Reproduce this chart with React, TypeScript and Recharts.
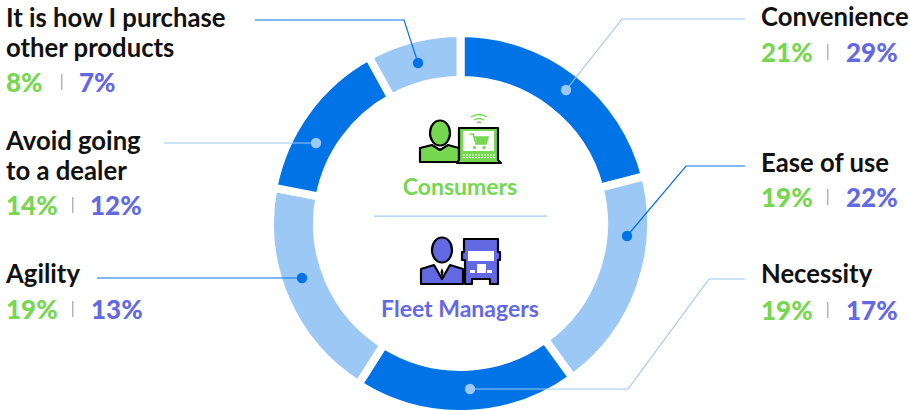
import React from "react";
import { PieChart, Pie, Cell } from "recharts";

const categories = ["Convenience", "Ease of use", "Necessity", "Agility", "Avoid going to a dealer", "It is how I purchase other products"];
const consumers = [21, 19, 19, 19, 14, 8];
const fleetManagers = [29, 22, 17, 13, 12, 7];
const chartData = categories.map((name, i) => ({ name, value: consumers[i] }));

const DARK = "#0073e6";
const LIGHT = "#9cc8f6";
const GREEN = "#76d750";
const PURPLE = "#6369e3";
const FONT = "Lato, 'Open Sans', sans-serif";

const sliceColors = [DARK, LIGHT, DARK, LIGHT, DARK, LIGHT];

const callouts = [
  { lines: ["Convenience"], x: 761, y: 26, pctY: 62, sep: 827, second: 846, path: "M745 19H622L566 90", dot: [566, 90], color: LIGHT },
  { lines: ["Ease of use"], x: 761, y: 172, pctY: 207, sep: 827, second: 846, path: "M745 166H686L627 236", dot: [627, 236], color: DARK },
  { lines: ["Necessity"], x: 761, y: 283, pctY: 320, sep: 827, second: 846, path: "M745 279H709L628 389H470", dot: [470, 389], color: LIGHT },
  { lines: ["Agility"], x: 6, y: 283, pctY: 319, sep: 72, second: 91, path: "M97 278H302", dot: [302, 278], color: DARK },
  { lines: ["Avoid going", "to a dealer"], x: 6, y: 150, pctY: 215, sep: 72, second: 90, path: "M164 143H316", dot: [316, 143], color: LIGHT },
  { lines: ["It is how I purchase", "other products"], x: 6, y: 27, pctY: 92, sep: 61, second: 79, path: "M255 20H404L418 63", dot: [418, 63], color: DARK },
];

function ConsumerIcon() {
  const s = { stroke: "#000", strokeWidth: 2.2, strokeLinejoin: "round" as const };
  return (
    <g>
      <ellipse cx={440} cy={133} rx={10} ry={12.5} fill={GREEN} {...s} />
      <path d="M420 162V148L432 145L440 150L448 145L459 148V162Z" fill={GREEN} {...s} />
      <path d="M459 128H498V160L501 163H457L459 160Z" fill={GREEN} {...s} />
      <rect x={463} y={131} width={31} height={20} fill="#fff" />
      <path d="M470 134H473L476 144H486L488 137H474" fill="none" stroke={GREEN} strokeWidth={1.6} />
      <path d="M475 137H488L486 144H477Z" fill={GREEN} />
      <circle cx={474.500} cy={147.500} r={1.600} fill={GREEN} />
      <circle cx={484} cy={147.500} r={1.600} fill={GREEN} />
      <path d="M463 155H496M463 157.500H496" stroke="#fff" strokeWidth={1} strokeDasharray="2 1" />
      <path d="M471 117Q479 112 487 117M474 120Q479 117 484 120M477 123Q479 121 481 123" fill="none" stroke={GREEN} strokeWidth={1.4} />
    </g>
  );
}

function FleetIcon() {
  const s = { stroke: "#000", strokeWidth: 2.2, strokeLinejoin: "round" as const };
  return (
    <g>
      <ellipse cx={442} cy={250} rx={10} ry={12.5} fill={PURPLE} {...s} />
      <path d="M421 284V269L434 265L442 279L450 265L463 269V284Z" fill={PURPLE} {...s} />
      <path d="M442 268L440.500 272L442 279L443.500 272Z" fill="#000" />
      <path d="M464 239H498V252H500V260H498V284H490V279H472V284H465V260H462V252H464Z" fill={PURPLE} {...s} />
      <rect x={468} y={251} width={26} height={10} fill="#fff" />
      <rect x={477} y={264} width={9} height={9} fill="#fff" />
      <rect x={470} y={270} width={5} height={3} fill="#fff" />
      <rect x={487} y={270} width={5} height={3} fill="#fff" />
    </g>
  );
}

export default function App() {
  return (
    <div style={{ position: "absolute", left: 0, top: 0, width: 910, height: 410, background: "#fff", overflow: "hidden" }}>
      <PieChart width={910} height={410} margin={{ top: 0, right: 0, bottom: 0, left: 0 }}>
        <Pie
          data={chartData}
          dataKey="value"
          nameKey="name"
          cx={460.5}
          cy={223.5}
          innerRadius={143.5}
          outerRadius={190.5}
          startAngle={90}
          endAngle={-270}
          stroke="#fff"
          strokeWidth={8}
          isAnimationActive={false}
        >
          {chartData.map((d, i) => (
            <Cell key={d.name} fill={sliceColors[i]} stroke="#fff" strokeWidth={8} />
          ))}
        </Pie>
      </PieChart>
      <svg width={910} height={410} style={{ position: "absolute", left: 0, top: 0 }}>
        <g fontFamily={FONT}>
          {callouts.map((c, i) => (
            <g key={i}>
              <path d={c.path} fill="none" stroke={c.color} strokeWidth={1.2} />
              <circle cx={c.dot[0]} cy={c.dot[1]} r={5.2} fill={c.color} />
              {c.lines.map((l, j) => (
                <text key={j} x={c.x} y={c.y + j * 30} fontSize={25.7} fontWeight={700} fill="#111">{l}</text>
              ))}
              <text x={c.x} y={c.pctY} fontSize={26} fontWeight={900} fill={GREEN}>{consumers[i]}%</text>
              <rect x={c.sep} y={c.pctY - 18} width={1.500} height={16} fill="#b5b5b5" />
              <text x={c.second} y={c.pctY} fontSize={26} fontWeight={900} fill={PURPLE}>{fleetManagers[i]}%</text>
            </g>
          ))}
          <ConsumerIcon />
          <text x={460} y={195} textAnchor="middle" fontSize={23} fontWeight={700} fill={GREEN}>Consumers</text>
          <rect x={374} y={215.500} width={173} height={1.200} fill={LIGHT} />
          <FleetIcon />
          <text x={460} y={317} textAnchor="middle" fontSize={23} fontWeight={700} fill={PURPLE}>Fleet Managers</text>
        </g>
      </svg>
    </div>
  );
}
